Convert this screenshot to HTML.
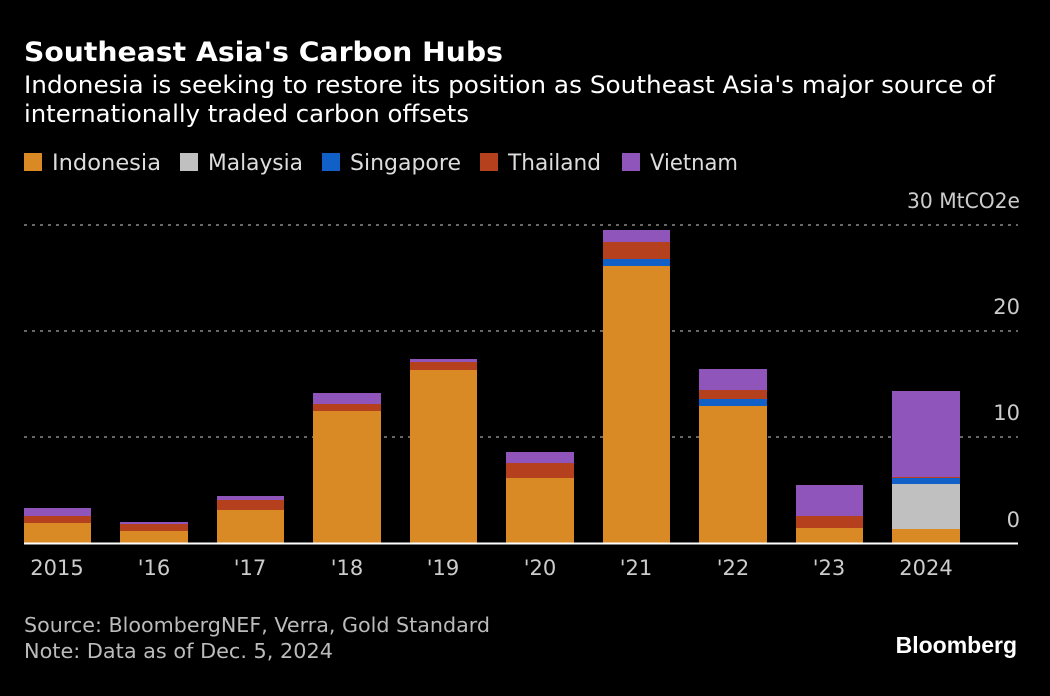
<!DOCTYPE html>
<html><head><meta charset="utf-8"><style>
body{margin:0;background:#000;width:1050px;height:696px;overflow:hidden}
</style></head><body>
<svg width="1050" height="696" style="position:absolute;left:0;top:0" font-family="DejaVu Sans, Liberation Sans, sans-serif">
<text x="24" y="61" font-size="27" font-weight="bold" fill="#fff" textLength="479" lengthAdjust="spacingAndGlyphs">Southeast Asia's Carbon Hubs</text>
<text x="24" y="93" font-size="24" fill="#fff" textLength="971" lengthAdjust="spacingAndGlyphs">Indonesia is seeking to restore its position as Southeast Asia's major source of</text>
<text x="24" y="122" font-size="24" fill="#fff" textLength="445" lengthAdjust="spacingAndGlyphs">internationally traded carbon offsets</text>
<g font-size="22" fill="#ddd">
<rect x="24" y="153" width="18" height="18" fill="#d98a25"/><text x="52" y="170" textLength="109" lengthAdjust="spacingAndGlyphs">Indonesia</text>
<rect x="180" y="153" width="18" height="18" fill="#c0c0c0"/><text x="208" y="170" textLength="95" lengthAdjust="spacingAndGlyphs">Malaysia</text>
<rect x="322" y="153" width="18" height="18" fill="#1060c8"/><text x="350" y="170" textLength="111" lengthAdjust="spacingAndGlyphs">Singapore</text>
<rect x="480" y="153" width="18" height="18" fill="#b5401d"/><text x="508" y="170" textLength="93" lengthAdjust="spacingAndGlyphs">Thailand</text>
<rect x="622" y="153" width="18" height="18" fill="#9055bb"/><text x="650" y="170" textLength="88" lengthAdjust="spacingAndGlyphs">Vietnam</text>
</g>
<g stroke="#888" stroke-width="1.5" stroke-dasharray="3,5">
<line x1="24" x2="1018" y1="225" y2="225"/><line x1="24" x2="1018" y1="331" y2="331"/><line x1="24" x2="1018" y1="437" y2="437"/>
</g>
<g font-size="21" fill="#ccc" text-anchor="end">
<text x="1020" y="208" textLength="113" lengthAdjust="spacingAndGlyphs">30 MtCO2e</text><text x="1020" y="314">20</text><text x="1020" y="420">10</text><text x="1020" y="527">0</text>
</g>
<g>
<rect x="24" y="508" width="67" height="8" fill="#9055bb"/><rect x="24" y="516" width="67" height="7" fill="#b5401d"/><rect x="24" y="523" width="67" height="20" fill="#d98a25"/>
<rect x="120" y="522" width="68" height="2" fill="#9055bb"/><rect x="120" y="524" width="68" height="7" fill="#b5401d"/><rect x="120" y="531" width="68" height="12" fill="#d98a25"/>
<rect x="217" y="496" width="67" height="4" fill="#9055bb"/><rect x="217" y="500" width="67" height="10" fill="#b5401d"/><rect x="217" y="510" width="67" height="33" fill="#d98a25"/>
<rect x="313" y="393" width="68" height="11" fill="#9055bb"/><rect x="313" y="404" width="68" height="7" fill="#b5401d"/><rect x="313" y="411" width="68" height="132" fill="#d98a25"/>
<rect x="410" y="359" width="67" height="3" fill="#9055bb"/><rect x="410" y="362" width="67" height="8" fill="#b5401d"/><rect x="410" y="370" width="67" height="173" fill="#d98a25"/>
<rect x="506" y="452" width="68" height="11" fill="#9055bb"/><rect x="506" y="463" width="68" height="15" fill="#b5401d"/><rect x="506" y="478" width="68" height="65" fill="#d98a25"/>
<rect x="603" y="230" width="67" height="12" fill="#9055bb"/><rect x="603" y="242" width="67" height="17" fill="#b5401d"/><rect x="603" y="259" width="67" height="7" fill="#1060c8"/><rect x="603" y="266" width="67" height="277" fill="#d98a25"/>
<rect x="699" y="369" width="68" height="21" fill="#9055bb"/><rect x="699" y="390" width="68" height="9" fill="#b5401d"/><rect x="699" y="399" width="68" height="7" fill="#1060c8"/><rect x="699" y="406" width="68" height="137" fill="#d98a25"/>
<rect x="796" y="485" width="67" height="31" fill="#9055bb"/><rect x="796" y="516" width="67" height="12" fill="#b5401d"/><rect x="796" y="528" width="67" height="15" fill="#d98a25"/>
<rect x="892" y="391" width="68" height="86" fill="#9055bb"/><rect x="892" y="477" width="68" height="1" fill="#b5401d"/><rect x="892" y="478" width="68" height="6" fill="#1060c8"/><rect x="892" y="484" width="68" height="45" fill="#c0c0c0"/><rect x="892" y="529" width="68" height="14" fill="#d98a25"/>
</g>
<line x1="24" x2="1018" y1="543.5" y2="543.5" stroke="#fff" stroke-width="2"/>
<g font-size="21" fill="#ccc" text-anchor="middle">
<text x="57" y="575">2015</text><text x="154" y="575">'16</text><text x="250" y="575">'17</text><text x="347" y="575">'18</text><text x="443" y="575">'19</text><text x="540" y="575">'20</text><text x="636" y="575">'21</text><text x="733" y="575">'22</text><text x="829" y="575">'23</text><text x="926" y="575">2024</text>
</g>
<g font-size="20" fill="#bbb"><text x="24" y="632" textLength="466" lengthAdjust="spacingAndGlyphs">Source: BloombergNEF, Verra, Gold Standard</text><text x="24" y="658" textLength="309" lengthAdjust="spacingAndGlyphs">Note: Data as of Dec. 5, 2024</text></g>
<text x="1017" y="653" font-family="Liberation Sans, sans-serif" font-size="23" font-weight="bold" fill="#fff" text-anchor="end">Bloomberg</text>
</svg>
</body></html>
